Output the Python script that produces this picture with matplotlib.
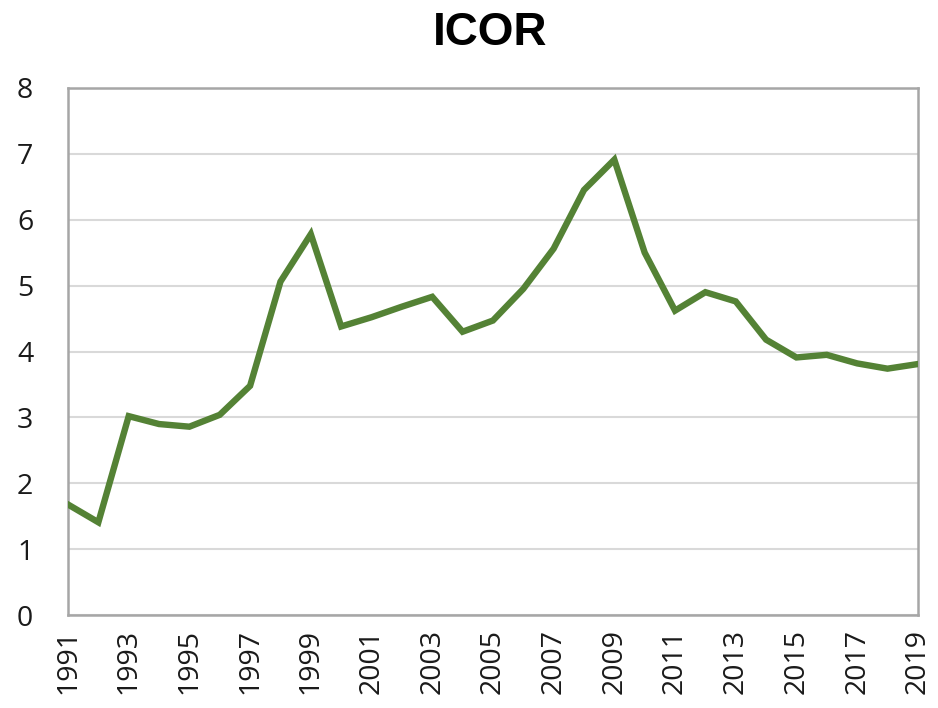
import matplotlib
matplotlib.use("Agg")
import matplotlib.pyplot as plt

years = list(range(1991, 2020))
icor = [1.68, 1.41, 3.02, 2.90, 2.86, 3.04, 3.48, 5.06, 5.78, 4.38,
        4.52, 4.68, 4.83, 4.30, 4.47, 4.95, 5.56, 6.45, 6.91, 5.50,
        4.62, 4.90, 4.76, 4.18, 3.91, 3.95, 3.82, 3.74, 3.81]
xtick_years = list(range(1991, 2020, 2))
yticks = list(range(0, 9))

fig = plt.figure(figsize=(9.38, 7.08), dpi=100)
ax = fig.add_axes([0.0725, 0.131, 0.906, 0.745])

ax.plot(years, icor, color="#548235", linewidth=4.6, solid_joinstyle="miter", zorder=3)

ax.set_xlim(1991, 2019)
ax.set_ylim(0, 8)
ax.set_yticks(yticks)
ax.set_xticks(xtick_years)
ax.set_xticklabels([str(y) for y in xtick_years], rotation=90)
ax.grid(axis="y", color="#D9D9D9", linewidth=1.5, zorder=0)
ax.grid(axis="x", visible=False)
for s in ax.spines.values():
    s.set_color("#A6A6A6")
    s.set_linewidth(1.8)
ax.tick_params(axis="both", length=0, labelsize=20.5, colors="#1a1a1a")
ax.tick_params(axis="y", pad=25)
ax.tick_params(axis="x", pad=10)
for lab in ax.get_xticklabels() + ax.get_yticklabels():
    lab.set_family("Open Sans")

fig.text(0.522, 0.953, "ICOR", ha="center", va="center", fontsize=33,
         fontweight="bold", family="Liberation Sans")

fig.savefig("out.png", dpi=100)
